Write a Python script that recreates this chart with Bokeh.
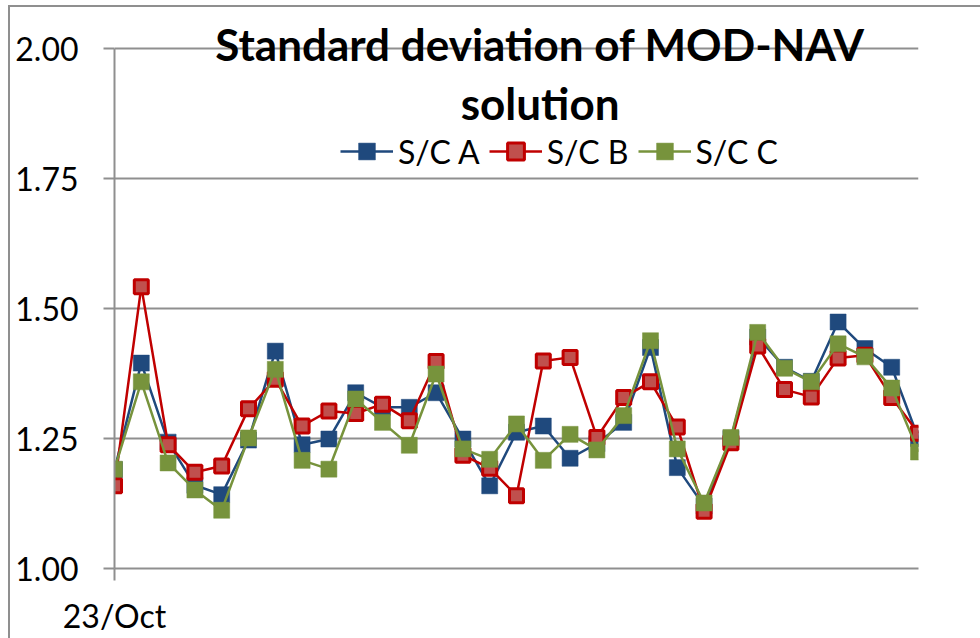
from bokeh.plotting import figure
from bokeh.models import Range1d, FixedTicker, Legend, LegendItem, Label
from bokeh.embed import file_html
from bokeh.resources import INLINE

# ---------------- data ----------------
dates = ["23/Oct", "24/Oct", "25/Oct", "26/Oct", "27/Oct", "28/Oct", "29/Oct",
         "30/Oct", "31/Oct", "01/Nov", "02/Nov", "03/Nov", "04/Nov", "05/Nov",
         "06/Nov", "07/Nov", "08/Nov", "09/Nov", "10/Nov", "11/Nov", "12/Nov",
         "13/Nov", "14/Nov", "15/Nov", "16/Nov", "17/Nov", "18/Nov", "19/Nov",
         "20/Nov", "21/Nov", "22/Nov"]
sc_a = [1.190, 1.395, 1.243, 1.160, 1.142, 1.247, 1.418, 1.238, 1.249, 1.338,
        1.310, 1.310, 1.338, 1.249, 1.159, 1.262, 1.274, 1.212, 1.240, 1.281,
        1.425, 1.194, 1.120, 1.250, 1.445, 1.387, 1.360, 1.474, 1.423, 1.387,
        1.250]
sc_b = [1.159, 1.542, 1.238, 1.185, 1.197, 1.307, 1.364, 1.274, 1.303, 1.298,
        1.316, 1.284, 1.398, 1.218, 1.193, 1.140, 1.399, 1.406, 1.252, 1.329,
        1.359, 1.272, 1.110, 1.242, 1.428, 1.344, 1.330, 1.405, 1.410, 1.329,
        1.260]
sc_c = [1.191, 1.359, 1.203, 1.151, 1.112, 1.251, 1.383, 1.208, 1.191, 1.326,
        1.281, 1.237, 1.374, 1.230, 1.210, 1.278, 1.208, 1.258, 1.228, 1.294,
        1.438, 1.230, 1.126, 1.252, 1.454, 1.385, 1.359, 1.432, 1.407, 1.347,
        1.224]
series_names = ["S/C A", "S/C B", "S/C C"]
y_ticks = [1.00, 1.25, 1.50, 1.75, 2.00]
y_tick_labels = ["1.00", "1.25", "1.50", "1.75", "2.00"]
title_lines = ["Standard deviation of MOD-NAV", "solution"]

x = list(range(len(dates)))

FONT = "Lato"
GRID = "#8f8f8f"
PX_PER_UNIT = 520.0   # vertical pixels per 1.0 of value
TOP_PAD = 48          # pixels of frame above the 2.00 gridline

p = figure(width=980, height=638, output_backend="svg", toolbar_location=None,
           x_range=Range1d(0, len(dates) - 1),
           y_range=Range1d(1.0, 2.0 + TOP_PAD / PX_PER_UNIT),
           min_border_left=114, min_border_right=62, min_border_top=0,
           min_border_bottom=70)
p.outline_line_color = None
p.background_fill_color = None
p.border_fill_color = None
# chart-area border (left and top edges of the cropped chart area)
p.styles = {
    "background": (
        f"linear-gradient({GRID}, {GRID}) 8px 5px / 2px calc(100% - 5px) no-repeat, "
        f"linear-gradient({GRID}, {GRID}) 8px 5px / calc(100% - 8px) 2px no-repeat, "
        "#ffffff"
    )
}

# axes
p.yaxis.ticker = FixedTicker(ticks=y_ticks)
p.yaxis.bounds = (1.0, 2.0)
p.yaxis.major_label_overrides = {t: l for t, l in zip(y_ticks, y_tick_labels)}
p.yaxis.major_tick_out = 11
p.yaxis.major_tick_in = 0
p.yaxis.minor_tick_out = 0
p.yaxis.minor_tick_in = 0
p.yaxis.major_label_standoff = 25
p.yaxis.axis_line_color = GRID
p.yaxis.axis_line_width = 2
p.yaxis.major_tick_line_color = GRID
p.yaxis.major_tick_line_width = 2
p.yaxis.major_label_text_font = FONT
p.yaxis.major_label_text_font_size = "32px"
p.yaxis.major_label_text_color = "black"

p.xaxis.ticker = FixedTicker(ticks=[0])
p.xaxis.major_label_overrides = {0: dates[0]}
p.xaxis.major_tick_out = 12
p.xaxis.major_tick_in = 0
p.xaxis.minor_tick_out = 0
p.xaxis.minor_tick_in = 0
p.xaxis.major_label_standoff = 15
p.xaxis.axis_line_color = GRID
p.xaxis.axis_line_width = 2
p.xaxis.major_tick_line_color = GRID
p.xaxis.major_tick_line_width = 2
p.xaxis.major_label_text_font = FONT
p.xaxis.major_label_text_font_size = "32px"
p.xaxis.major_label_text_color = "black"

p.xgrid.grid_line_color = None
p.ygrid.ticker = FixedTicker(ticks=y_ticks)
p.ygrid.grid_line_color = GRID
p.ygrid.grid_line_width = 2

# title (drawn over the top gridline)
x_mid = 15.88
p.add_layout(Label(x=x_mid, y=2.0 + 5 / PX_PER_UNIT, text=title_lines[0],
                   text_font=FONT, text_font_style="bold",
                   text_font_size="44px", text_align="center",
                   text_baseline="middle", text_color="black"))
p.add_layout(Label(x=x_mid, y=2.0 - 54 / PX_PER_UNIT, text=title_lines[1],
                   text_font=FONT, text_font_style="bold",
                   text_font_size="44px", text_align="center",
                   text_baseline="middle", text_color="black"))

styles = [
    dict(line="#1F497D", fill="#1F497D", mline="#1F497D", size=16, mlw=0.5),
    dict(line="#C00000", fill="#C0504D", mline="#C00000", size=14, mlw=3),
    dict(line="#77933C", fill="#77933C", mline="#77933C", size=16, mlw=0.5),
]
items = []
for name, ys, st in zip(series_names, [sc_a, sc_b, sc_c], styles):
    lr = p.line(x, ys, line_color=st["line"], line_width=2.5)
    sr = p.scatter(x, ys, marker="square", size=st["size"],
                   fill_color=st["fill"], line_color=st["mline"],
                   line_width=st["mlw"])
    items.append(LegendItem(label=name, renderers=[lr, sr]))

legend = Legend(items=items, orientation="horizontal", location=(226, 396),
                glyph_width=53, glyph_height=42, label_standoff=5, spacing=9,
                padding=0, margin=0, border_line_color=None,
                background_fill_alpha=0, label_text_font=FONT,
                label_text_font_size="32px", label_height=42,
                label_text_color="black")
p.add_layout(legend)

open("out.html", "w").write(file_html(p, INLINE))
